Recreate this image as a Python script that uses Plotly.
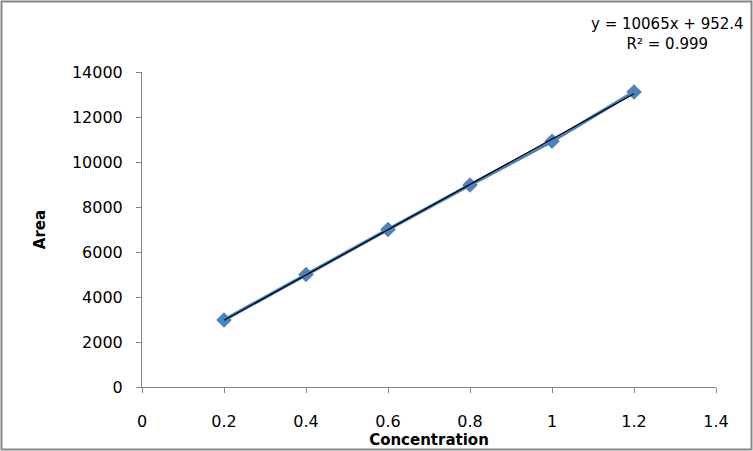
import plotly.graph_objects as go
import numpy as np

concentration = [0.2, 0.4, 0.6, 0.8, 1.0, 1.2]
area = [2980, 5000, 7000, 8980, 10920, 13110]
trend_slope = 10065
trend_intercept = 952.4
equation_text = "y = 10065x + 952.4<br>R² = 0.999"
x_ticks = [0, 0.2, 0.4, 0.6, 0.8, 1, 1.2, 1.4]
y_ticks = [0, 2000, 4000, 6000, 8000, 10000, 12000, 14000]

FONT = "DejaVu Sans"
W, H = 753, 451
L, R, T, B = 142, 37, 72, 64
pw, ph = W - L - R, H - T - B

trend_x = np.array([min(concentration), max(concentration)])
trend_y = trend_slope * trend_x + trend_intercept

fig = go.Figure()
fig.add_trace(go.Scatter(
    x=concentration, y=area, mode="lines+markers",
    line=dict(color="#4F81BD", width=3.5),
    marker=dict(symbol="diamond", size=12, color="#4F81BD"),
    showlegend=False))
fig.add_trace(go.Scatter(
    x=trend_x, y=trend_y, mode="lines",
    line=dict(color="black", width=1.2), showlegend=False))

axis_common = dict(showgrid=False, zeroline=False, showline=True,
                   linecolor="#868686", linewidth=1, ticks="outside",
                   tickcolor="#868686", ticklen=5, automargin=False,
                   tickfont=dict(family=FONT, size=16, color="black"))
fig.update_xaxes(range=[0, 1.4], tickvals=x_ticks,
                 ticktext=[f"{v:g}" for v in x_ticks],
                 ticklabelstandoff=15,
                 title=dict(text="<b>Concentration</b>", standoff=2,
                            font=dict(family=FONT, size=15, color="black")),
                 **axis_common)
fig.update_yaxes(range=[0, 14000], tickvals=y_ticks,
                 ticktext=[str(v) for v in y_ticks],
                 ticklabelstandoff=10,
                 title=dict(text="<b>Area</b>", standoff=22,
                            font=dict(family=FONT, size=15, color="black")),
                 **axis_common)

fig.add_annotation(xref="paper", yref="paper",
                   x=(667 - L) / pw, y=(H - B - 34) / ph,
                   text=equation_text, showarrow=False, align="center",
                   xanchor="center", yanchor="middle",
                   font=dict(family=FONT, size=15, color="black"))

# chart border
fig.add_shape(type="rect", xref="paper", yref="paper",
              x0=(1.5 - L) / pw, x1=(W - 1.5 - L) / pw,
              y0=(H - B - (H - 1.5)) / ph, y1=(H - B - 1.5) / ph,
              line=dict(color="#868686", width=2), layer="below")

fig.update_layout(width=W, height=H, margin=dict(l=L, r=R, t=T, b=B),
                  paper_bgcolor="white", plot_bgcolor="white",
                  font=dict(family=FONT))
fig.write_html("out.html", config={"displayModeBar": False},
               post_script="document.body.style.margin='0';document.body.style.overflow='hidden';")
